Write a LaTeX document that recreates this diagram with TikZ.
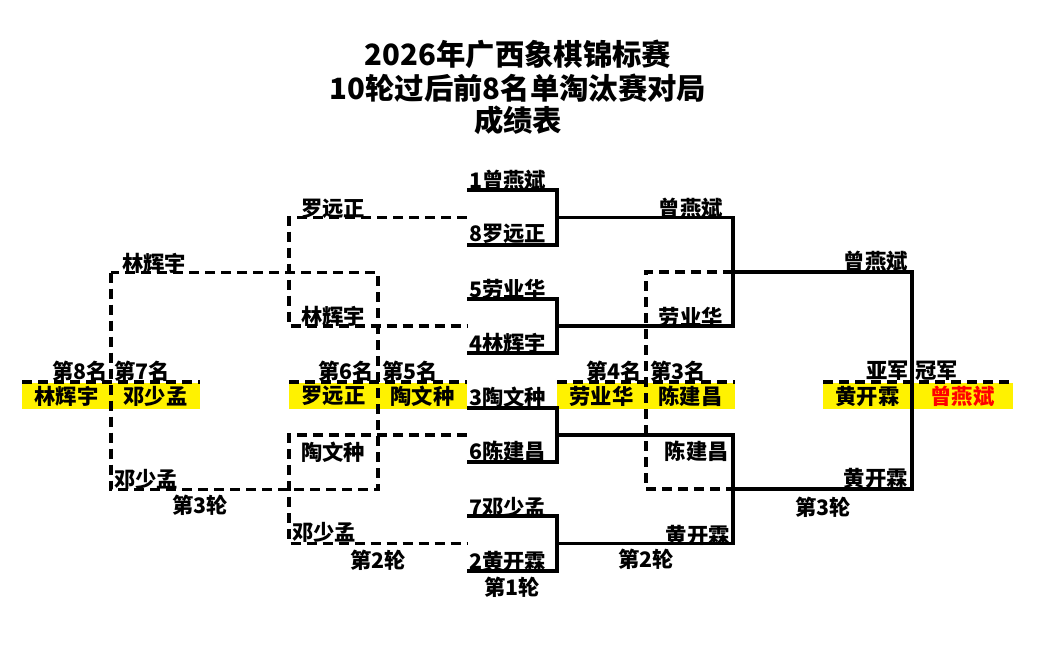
\documentclass[tikz,border=0pt]{standalone}
\usepackage{fontspec}
\setmainfont{Noto Sans CJK SC}
\begin{document}
\begin{tikzpicture}[x=0.75pt,y=-0.75pt,
  solidline/.style={line width=2.5pt},
  dashline/.style={line width=2.4pt, dash pattern=on 7.5pt off 4.5pt},
  lbl/.style={font=\fontsize{16}{18}\selectfont\bfseries, inner sep=0pt},
  ttl/.style={font=\fontsize{22}{24}\selectfont\bfseries, inner sep=0pt},
  ybox/.style={fill=yellow, draw=none}]
\useasboundingbox (0,0) rectangle (1044,661);
% title
\node[ttl] (t1) at (518,54) {2026年广西象棋锦标赛};
\node[ttl] (t2) at (518,88) {10轮过后前8名单淘汰赛对局};
\node[ttl] (t3) at (518,120) {成绩表};
% key coordinates
\coordinate (c1) at (467,190); \coordinate (c2) at (467,245);
\coordinate (c3) at (467,299); \coordinate (c4) at (467,353);
\coordinate (c5) at (467,408); \coordinate (c6) at (467,462);
\coordinate (c7) at (467,516); \coordinate (c8) at (467,571);
\coordinate (j1) at (557,217.5); \coordinate (j2) at (557,326);
\coordinate (j3) at (557,435); \coordinate (j4) at (557,543.5);
\coordinate (k1) at (733,272); \coordinate (k2) at (733,489);
\coordinate (f) at (912,0);
\coordinate (d1) at (289,0);
\coordinate (g1) at (111,272.5); \coordinate (g2) at (378,489.5);
\coordinate (h) at (646,0);
% yellow boxes
\fill[ybox] (22,383) rectangle (200,409);
\fill[ybox] (289,383) rectangle (467,409);
\fill[ybox] (557,383) rectangle (735,409);
\fill[ybox] (823,383) rectangle (1013,409);
\draw[dashline] (22,382) -- (200,382);
\draw[dashline] (289,382) -- (467,382);
\draw[dashline] (557,382) -- (735,382);
\draw[dashline] (823,382) -- (1013,382);
% round 1
\draw[solidline] (c1) -- (c1 -| j1) -- (c2 -| j1) -- (c2);
\draw[solidline] (c3) -- (c3 -| j2) -- (c4 -| j2) -- (c4);
\draw[solidline] (c5) -- (c5 -| j3) -- (c6 -| j3) -- (c6);
\draw[solidline] (c7) -- (c7 -| j4) -- (c8 -| j4) -- (c8);
% round 2
\draw[solidline] (j1) -- (j1 -| k1) -- (j2 -| k1) -- (j2);
\draw[solidline] (j3) -- (j3 -| k2) -- (j4 -| k2) -- (j4);
% round 3
\draw[solidline] (k1) -- (k1 -| f) -- (k2 -| f) -- (k2);
% dashed consolation
\draw[dashline] (j1 -| c1) -- (j1 -| d1) -- (j2 -| d1) -- (j2 -| c1);
\draw[dashline] (j3 -| c1) -- (j3 -| d1) -- (j4 -| d1) -- (j4 -| c1);
\draw[dashline] (g1) rectangle (g2);
\draw[dashline] (k1) -- (k1 -| h) -- (k2 -| h) -- (k2);
% round 1 names
\node[lbl,anchor=west] (n1) at (469,180.5) {1曾燕斌};
\node[lbl,anchor=west] (n8) at (469,234) {8罗远正};
\node[lbl,anchor=west] (n5) at (469,289.5) {5劳业华};
\node[lbl,anchor=west] (n4) at (469,343.5) {4林辉宇};
\node[lbl,anchor=west] (n3) at (469,397.5) {3陶文种};
\node[lbl,anchor=west] (n6) at (469,451.5) {6陈建昌};
\node[lbl,anchor=west] (n7) at (469,507.5) {7邓少孟};
\node[lbl,anchor=west] (n2) at (469,561.5) {2黄开霖};
% round 2 winners
\node[lbl,anchor=east] (w1) at (723,208.5) {曾燕斌};
\node[lbl,anchor=east] (w2) at (723,317) {劳业华};
\node[lbl,anchor=east] (w3) at (729,451.5) {陈建昌};
\node[lbl,anchor=east] (w4) at (730,535) {黄开霖};
% round 3 winners
\node[lbl,anchor=east] (v1) at (908,261) {曾燕斌};
\node[lbl,anchor=east] (v2) at (908,478.5) {黄开霖};
% consolation names
\node[lbl,anchor=west] (l1) at (301,208.5) {罗远正};
\node[lbl,anchor=west] (l2) at (301,316.5) {林辉宇};
\node[lbl,anchor=west] (l3) at (301,452) {陶文种};
\node[lbl,anchor=west] (l4) at (292,532.5) {邓少孟};
\node[lbl,anchor=west] (m1) at (122,263.5) {林辉宇};
\node[lbl,anchor=west] (m2) at (114,479) {邓少孟};
% place labels
\node[lbl,anchor=east] (p8) at (108,371) {第8名};
\node[lbl,anchor=west] (p7) at (114,371) {第7名};
\node[lbl,anchor=east] (p6) at (374,371) {第6名};
\node[lbl,anchor=west] (p5) at (382,371) {第5名};
\node[lbl,anchor=east] (p4) at (642,371) {第4名};
\node[lbl,anchor=west] (p3) at (650,371) {第3名};
\node[lbl,anchor=east] (p2) at (909,371) {亚军};
\node[lbl,anchor=west] (p1) at (915,371) {冠军};
% final standings
\node[lbl] (s8) at (66.5,396) {林辉宇};
\node[lbl] (s7) at (155.5,396) {邓少孟};
\node[lbl] (s6) at (333.5,396) {罗远正};
\node[lbl] (s5) at (422.5,396) {陶文种};
\node[lbl] (s4) at (601.5,396) {劳业华};
\node[lbl] (s3) at (690.5,396) {陈建昌};
\node[lbl] (s2) at (867.5,396) {黄开霖};
\node[lbl,text=red] (s1) at (962.5,396) {曾燕斌};
% round labels
\node[lbl] (r3a) at (200,505) {第3轮};
\node[lbl] (r2a) at (378,560) {第2轮};
\node[lbl] (r1) at (512,587) {第1轮};
\node[lbl] (r2b) at (646,559) {第2轮};
\node[lbl] (r3b) at (823,507) {第3轮};
\end{tikzpicture}
\end{document}
